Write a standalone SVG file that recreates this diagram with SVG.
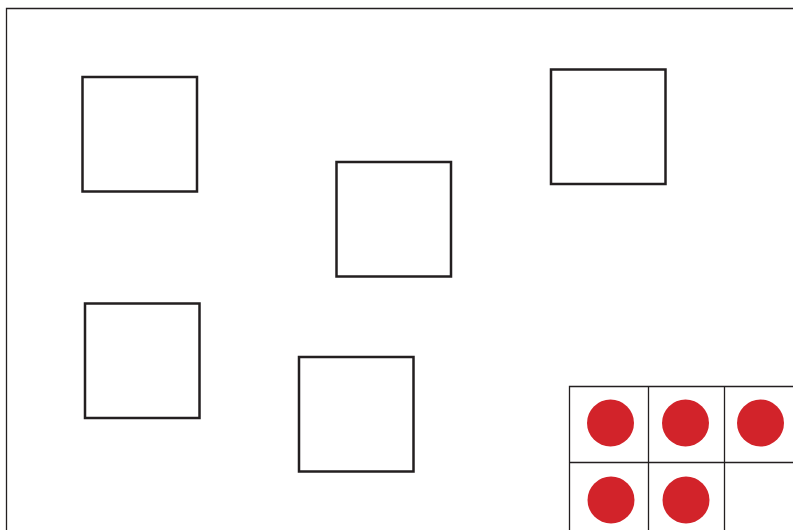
<svg xmlns="http://www.w3.org/2000/svg" width="793" height="530" viewBox="0 0 793 530">
<style>
.sq{fill:none;stroke:#231f20;stroke-width:2.5}
.grid{fill:none;stroke:#231f20;stroke-width:1.3}
.dot{fill:#d2232a}
</style>
<rect x="0" y="0" width="793" height="530" fill="#fff"/>
<path d="M6.5 530 V8.5 H793" fill="none" stroke="#231f20" stroke-width="1.3"/>
<g id="square1"><rect class="sq" x="82.5" y="77" width="114.5" height="114.5"/></g>
<g id="square2"><rect class="sq" x="336.5" y="162" width="114.5" height="114.5"/></g>
<g id="square3"><rect class="sq" x="551" y="69.5" width="114.5" height="114.5"/></g>
<g id="square4"><rect class="sq" x="85" y="303.5" width="114.5" height="114.5"/></g>
<g id="square5"><rect class="sq" x="299" y="357" width="114.5" height="114.5"/></g>
<g id="tenframe">
<path class="grid" d="M569.5 540 V386.5 H800 M569.5 462.5 H800 M648.5 386.5 V540 M724.5 386.5 V540"/>
<circle class="dot" cx="610.5" cy="423" r="23.5"/>
<circle class="dot" cx="685.5" cy="423" r="23.5"/>
<circle class="dot" cx="760.5" cy="423" r="23.5"/>
<circle class="dot" cx="611" cy="500" r="23.5"/>
<circle class="dot" cx="686" cy="500" r="23.5"/>
</g>
</svg>
